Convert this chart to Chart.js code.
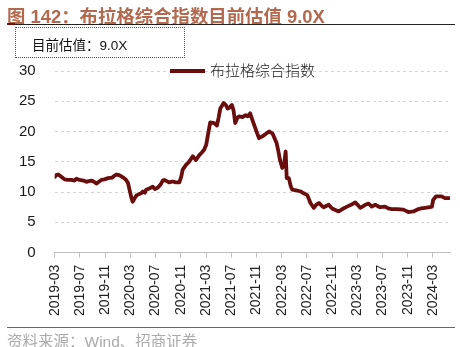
<!DOCTYPE html>
<html>
<head>
<meta charset="utf-8">
<script src="https://cdn.jsdelivr.net/npm/chart.js@4/dist/chart.umd.min.js"></script>
<style>
  body { margin: 0; background: #fff; }
  #wrap { position: relative; width: 460px; height: 347px; overflow: hidden;
          font-family: "Liberation Sans", Arial, "Noto Sans CJK SC", sans-serif; }
  #myChart { position: absolute; left: 0; top: 0; }
  #title { position: absolute; left: 7px; top: 2px; font-size: 18.4px; font-weight: bold;
           color: #b3694d; white-space: nowrap; }
  #topRule { position: absolute; left: 7px; top: 24px; width: 448px; height: 1px; background: #222; }
  #topRule:before { content: ""; position: absolute; left: 0; top: -1px; width: 8px; height: 2px; background: #6e1010; }
  #nowBox { position: absolute; left: 15px; top: 27px; width: 170px; height: 31px;
            border: 1px dotted #555; box-sizing: border-box; font-size: 13.5px; color: #111;
            padding: 6px 0 0 16px; white-space: nowrap; }
  #legend { position: absolute; left: 170px; top: 59px; font-size: 15px; color: #222;
            white-space: nowrap; font-family: "Noto Sans CJK SC", sans-serif; font-weight: 300; }
  #legend span.swatch { display: inline-block; width: 35px; height: 4px; background: #6a0d0d;
                        vertical-align: middle; margin-right: 5px; position: relative; top: -1px; }
  #bottomRule { position: absolute; left: 7px; top: 327px; width: 448px; height: 1px; background: #a0503c; }
  #source { position: absolute; left: 7px; top: 329px; font-size: 15.5px; color: #ababab; white-space: nowrap; }
</style>
</head>
<body>
<div id="wrap">
  <canvas id="myChart" width="460" height="347"></canvas>
  <div id="title"></div>
  <div id="topRule"></div>
  <div id="nowBox"></div>
  <div id="legend"><span class="swatch"></span><span id="legendText"></span></div>
  <div id="bottomRule"></div>
  <div id="source">资料来源：Wind、招商证券</div>
</div>
<script>
var seriesName = '布拉格综合指数';

// observation dates and index valuation (x)
var dates = [
  '2019-03-01','2019-03-08','2019-03-18','2019-04-04','2019-04-18','2019-05-03','2019-05-21','2019-06-05',
  '2019-06-15','2019-06-29','2019-07-18','2019-08-02','2019-08-14','2019-08-26','2019-09-08','2019-09-19',
  '2019-10-01','2019-10-13','2019-10-28','2019-11-15','2019-12-05','2019-12-15','2019-12-24','2020-01-08',
  '2020-01-18','2020-02-01','2020-02-11','2020-02-20','2020-02-27','2020-03-05','2020-03-12','2020-03-20',
  '2020-03-29','2020-04-08','2020-04-22','2020-05-01','2020-05-10','2020-05-16','2020-06-01','2020-06-18',
  '2020-06-28','2020-07-11','2020-07-24','2020-08-05','2020-08-13','2020-08-24','2020-09-05','2020-09-22',
  '2020-10-08','2020-10-24','2020-11-03','2020-11-10','2020-11-26','2020-12-10','2020-12-28','2021-01-13',
  '2021-01-29','2021-02-10','2021-02-22','2021-03-02','2021-03-09','2021-03-21','2021-04-10','2021-04-23',
  '2021-05-01','2021-05-09','2021-05-25','2021-06-05','2021-06-14','2021-06-24','2021-07-04','2021-07-12',
  '2021-07-20','2021-08-01','2021-08-09','2021-08-25','2021-09-10','2021-09-20','2021-10-01','2021-10-12',
  '2021-10-28','2021-11-13','2021-11-29','2021-12-15','2022-01-01','2022-01-17','2022-02-07','2022-02-15',
  '2022-02-23','2022-03-04','2022-03-14','2022-03-20','2022-03-25','2022-04-05','2022-04-14','2022-04-21',
  '2022-05-10','2022-06-01','2022-06-16','2022-07-03','2022-07-18','2022-08-04','2022-08-15','2022-08-28',
  '2022-09-10','2022-09-21','2022-10-15','2022-11-01','2022-12-02','2022-12-20','2023-01-12','2023-02-01',
  '2023-02-21','2023-03-05','2023-03-15','2023-04-09','2023-04-25','2023-05-10','2023-05-26','2023-06-19',
  '2023-07-13','2023-07-28','2023-08-15','2023-09-10','2023-10-10','2023-11-04','2023-11-28','2023-12-22',
  '2024-01-05','2024-01-23','2024-02-16','2024-02-26','2024-03-02','2024-03-15','2024-04-12','2024-04-28',
  '2024-05-18'
];
var values = [
  12.5, 12.8, 12.9, 12.5, 12.1, 12.0, 12.0, 11.9,
  12.2, 12.0, 11.9, 11.7, 11.8, 11.9, 11.7, 11.4,
  11.7, 12.0, 12.1, 12.3, 12.4, 12.7, 12.9, 12.8,
  12.6, 12.3, 12.0, 11.5, 10.4, 9.2, 8.4, 8.9,
  9.4, 9.6, 9.8, 10.1, 9.9, 10.4, 10.6, 10.9,
  10.5, 10.7, 11.2, 11.9, 12.0, 11.8, 11.6, 11.75,
  11.6, 11.6, 12.5, 13.7, 14.5, 15.0, 15.9, 15.3,
  16.1, 16.5, 17.0, 17.8, 19.2, 21.5, 21.4, 21.0,
  22.3, 23.8, 24.7, 24.4, 23.8, 24.0, 24.4, 23.5,
  21.4, 22.3, 22.5, 22.4, 22.7, 22.5, 23.0, 21.9,
  20.3, 18.9, 19.2, 19.6, 20.0, 19.7, 18.1, 16.8,
  15.3, 14.0, 15.0, 16.7, 12.3, 12.3, 11.0, 10.4,
  10.3, 10.1, 9.8, 9.5, 8.2, 7.4, 7.9, 8.2,
  7.8, 7.5, 7.9, 7.3, 6.8, 7.2, 7.6, 7.9,
  8.3, 7.8, 7.4, 7.9, 8.1, 7.6, 7.9, 7.5,
  7.6, 7.3, 7.2, 7.2, 7.1, 6.7, 6.8, 7.2,
  7.3, 7.4, 7.5, 7.6, 8.7, 9.3, 9.3, 9.0,
  9.0
];

// x axis labels, one every four months starting 2019-03
var tickLabels = ['2019-03','2019-07','2019-11','2020-03','2020-07','2020-11','2021-03','2021-07',
                  '2021-11','2022-03','2022-07','2022-11','2023-03','2023-07','2023-11','2024-03'];
var yTicks = [0, 5, 10, 15, 20, 25, 30];

// months elapsed since 2019-03
function toMonth(s){
  var p = s.split('-').map(Number);
  return (p[0] - 2019) * 12 + (p[1] - 3) + (p[2] - 1) / 30;
}

var points = [];
for (var i = 0; i < dates.length; i++){
  points.push({x: toMonth(dates[i]), y: values[i]});
}
var tickPos = tickLabels.map(function(l){ return toMonth(l + '-01'); });

var current = values[values.length - 1].toFixed(1) + 'X';
document.getElementById('title').textContent = '图 142：' + seriesName + '目前估值 ' + current;
document.getElementById('nowBox').textContent = '目前估值：' + current;
document.getElementById('legendText').textContent = seriesName;

var ctx = document.getElementById('myChart').getContext('2d');
var chart = new Chart(ctx, {
  type: 'line',
  data: {
    datasets: [{
      label: seriesName,
      data: points,
      borderColor: '#6a0d0d',
      borderWidth: 3.8,
      borderJoinStyle: 'round',
      borderCapStyle: 'round',
      pointRadius: 0,
      tension: 0,
      fill: false
    }]
  },
  options: {
    responsive: false,
    animation: false,
    layout: { padding: { top: 71, left: 0, right: 10, bottom: 24 } },
    plugins: { legend: { display: false }, tooltip: { enabled: false } },
    scales: {
      x: {
        type: 'linear',
        min: 0,
        max: 62.7,
        afterBuildTicks: function(axis){
          axis.ticks = tickPos.map(function(v){ return {value: v}; });
        },
        grid: { drawOnChartArea: false, drawTicks: true, tickLength: 5, color: '#bfbfbf' },
        border: { color: '#bfbfbf', width: 1 },
        ticks: {
          autoSkip: false,
          minRotation: 90,
          maxRotation: 90,
          padding: 7,
          color: '#222',
          font: { family: '"Liberation Sans", Arial', size: 14 },
          callback: function(v, idx){ return tickLabels[idx]; }
        }
      },
      y: {
        min: yTicks[0],
        max: yTicks[yTicks.length - 1],
        ticks: {
          stepSize: 5,
          padding: 19,
          color: '#1a1a1a',
          font: { family: '"Liberation Sans", Arial', size: 15 }
        },
        grid: { color: '#d4d4d4', drawTicks: false },
        border: { display: false, dash: [3, 3] }
      }
    }
  }
});
</script>
</body>
</html>
